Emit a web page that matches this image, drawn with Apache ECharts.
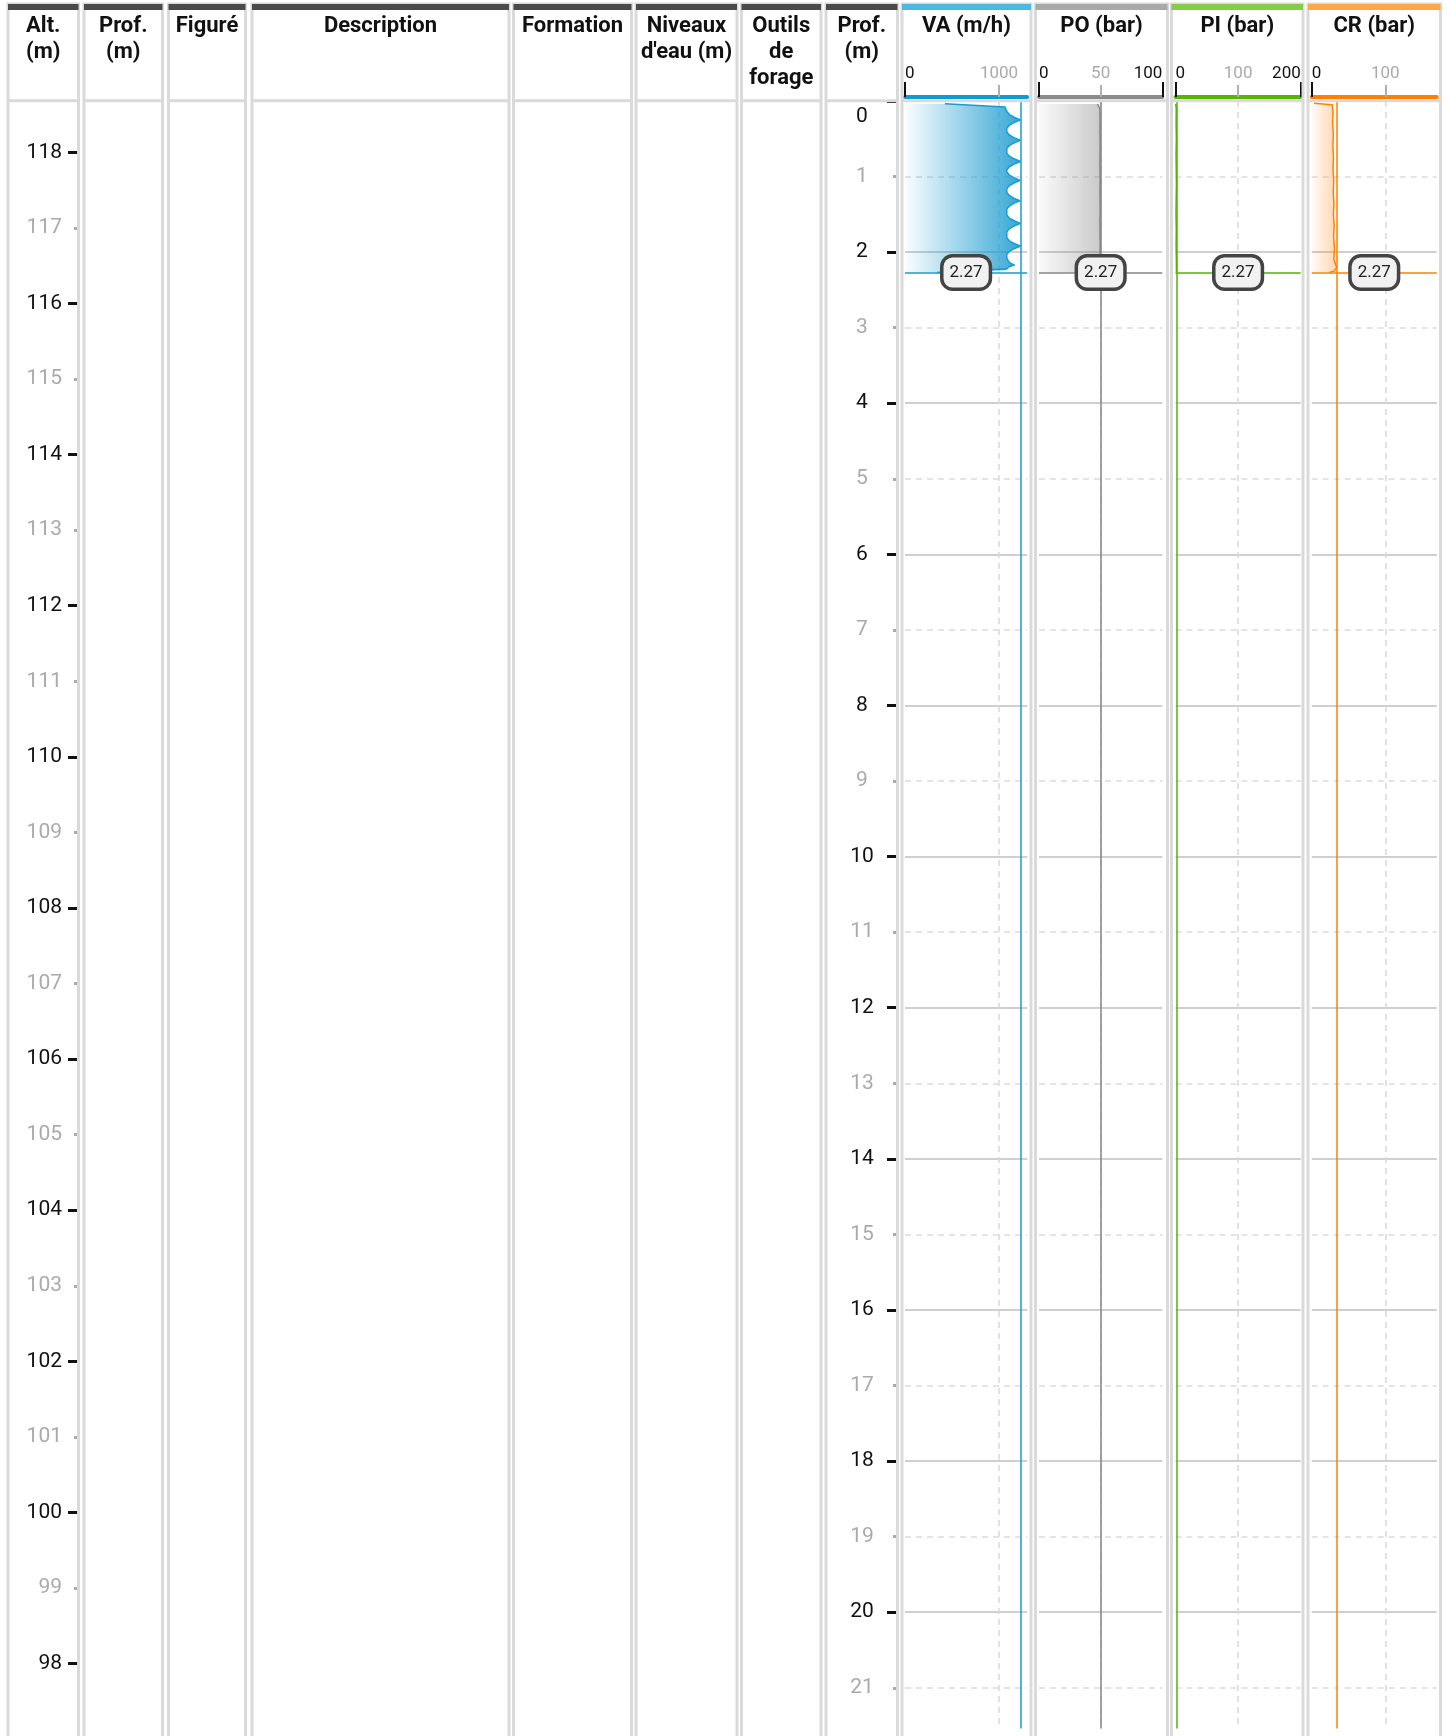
<!DOCTYPE html>
<html>
<head>
<meta charset="utf-8">
<title>Log de forage</title>
<script src="https://cdn.jsdelivr.net/npm/echarts@6/dist/echarts.min.js"></script>
<style>
html, body { margin: 0; padding: 0; background: #fff; }
#chart { width: 1447px; height: 1736px; }
</style>
</head>
<body>
<div id="chart"></div>
<script>
// column titles, left to right
const columnTitles = ['Alt.\n(m)', 'Prof.\n(m)', 'Figuré', 'Description', 'Formation', "Niveaux\nd'eau (m)",
  'Outils\nde\nforage', 'Prof.\n(m)', 'VA (m/h)', 'PO (bar)', 'PI (bar)', 'CR (bar)'];

const currentDepth = 2.27;     // last drilled depth (m)
const groundAltitude = 118.68; // altitude at depth 0 (m)

// VA (m/h)
const vaDepth = [0.035, 0.08, 0.14, 0.18, 0.215, 0.25, 0.285, 0.32, 0.36,
  0.41, 0.45, 0.485, 0.52, 0.555, 0.59, 0.63,
  0.69, 0.73, 0.765, 0.80, 0.835, 0.87, 0.91,
  0.94, 0.98, 1.015, 1.05, 1.085, 1.12, 1.16,
  1.21, 1.25, 1.285, 1.32, 1.355, 1.39, 1.43,
  1.51, 1.55, 1.585, 1.62, 1.655, 1.69, 1.73,
  1.81, 1.85, 1.885, 1.92, 1.955, 1.99, 2.03,
  2.08, 2.12, 2.15, 2.17, 2.19, 2.22, 2.24, 2.27];
const vaValue = [425, 1065, 1083, 1110, 1160, 1230, 1160, 1110, 1083,
  1083, 1110, 1158, 1225, 1158, 1110, 1083,
  1083, 1110, 1160, 1228, 1160, 1110, 1083,
  1083, 1110, 1158, 1226, 1158, 1110, 1083,
  1083, 1110, 1155, 1222, 1155, 1110, 1083,
  1083, 1110, 1160, 1229, 1160, 1110, 1083,
  1083, 1110, 1160, 1230, 1160, 1110, 1083,
  1083, 1100, 1125, 1165, 1110, 1085, 1075, 340];

// PO (bar)
const poDepth = [0.04, 0.10, 0.25, 0.40, 0.55, 0.70, 0.85, 1.00, 1.15, 1.30, 1.45, 1.60, 1.75, 1.90, 2.05, 2.20, 2.27];
const poValue = [47.5, 49.4, 49.5, 49.4, 49.6, 49.5, 49.4, 49.6, 49.5, 49.5, 49.6, 49.4, 49.5, 49.6, 49.5, 50.0, 49.6];

// PI (bar)
const piDepth = [0.04, 0.10, 0.30, 0.50, 0.70, 0.90, 1.10, 1.30, 1.50, 1.70, 1.90, 2.10, 2.27];
const piValue = [0.4, 1.2, 1.0, 1.4, 0.9, 1.2, 1.5, 1.1, 0.8, 1.3, 1.0, 1.4, 1.6];

// CR (bar)
const crDepth = [0.03, 0.05, 0.15, 0.30, 0.45, 0.60, 0.75, 0.90, 1.05, 1.20, 1.35, 1.50, 1.65, 1.80, 1.95, 2.10, 2.20, 2.25, 2.27];
const crValue = [3, 28, 29, 28.5, 29.5, 28.8, 29.6, 29.0, 30.0, 29.3, 30.2, 29.5, 30.5, 29.8, 31.0, 30.2, 34, 31, 24];

// tick labels of the track scales
const vaTicks = [0, 1000];
const poTicks = [0, 50, 100];
const piTicks = [0, 100, 200];
const crTicks = [0, 100];

// ---- layout ----
const TOP = 101;          // y of depth 0
const PX_PER_M = 75.56;
const DEPTH_MAX = 22;
const ALT_MIN = 96;
const FONT = 'Roboto';

// column frames [left, right]
const cols = [[8, 78.5], [84, 162.5], [168.5, 245.5], [252, 509], [513.5, 631.5], [636, 737],
  [741.5, 821], [826, 897.5], [902, 1031], [1035.5, 1167.5], [1171.5, 1303], [1308, 1440.5]];
const barColors = ['#4a4a4a', '#4a4a4a', '#4a4a4a', '#4a4a4a', '#4a4a4a', '#4a4a4a', '#4a4a4a', '#4a4a4a',
  '#4fb7dd', '#a9a9a9', '#86cc4c', '#ffa64d'];

const tracks = [
  { depth: vaDepth, value: vaValue, max: 1300, ticks: vaTicks, left: 905, width: 122.2,
    line: '#1a9bcf', axis: '#0e9cd0', fill: ['rgba(26,155,207,0.02)', 'rgba(26,155,207,0.88)'] },
  { depth: poDepth, value: poValue, max: 100, ticks: poTicks, left: 1039, width: 123.3,
    line: '#858585', axis: '#8a8a8a', fill: ['rgba(128,128,128,0.04)', 'rgba(128,128,128,0.42)'] },
  { depth: piDepth, value: piValue, max: 200, ticks: piTicks, left: 1175.5, width: 125.2,
    line: '#52b400', axis: '#55b500', fill: ['rgba(82,180,0,0.05)', 'rgba(82,180,0,0.4)'] },
  { depth: crDepth, value: crValue, max: 170, ticks: crTicks, left: 1311.7, width: 125.1,
    line: '#ff8000', axis: '#ff7f00', fill: ['rgba(255,128,0,0.03)', 'rgba(255,128,0,0.32)'] }
];

const trackHeight = DEPTH_MAX * PX_PER_M;

const grids = [
  { left: 77, width: 4, top: TOP, height: (groundAltitude - ALT_MIN) * PX_PER_M, outerBoundsMode: 'none' },
  { left: 896, width: 4, top: TOP, height: trackHeight, outerBoundsMode: 'none' }
];
const xAxes = [
  { gridIndex: 0, type: 'value', show: false, min: 0, max: 1 },
  { gridIndex: 1, type: 'value', show: false, min: 0, max: 1 }
];
const yAxes = [
  // altitude, odd values
  { gridIndex: 0, type: 'value', position: 'left', min: ALT_MIN, max: groundAltitude, interval: 1,
    axisLine: { show: false }, splitLine: { show: false },
    axisTick: { length: 3, lineStyle: { color: '#aaa', width: 3 } },
    axisLabel: { margin: 15, fontSize: 21, fontFamily: FONT, color: '#aaa', showMaxLabel: false,
      formatter: v => (Math.abs(v % 2) === 1 ? String(v) : '') } },
  // altitude, even values
  { gridIndex: 0, type: 'value', position: 'left', min: ALT_MIN, max: groundAltitude, interval: 2,
    axisLine: { show: false }, splitLine: { show: false },
    axisTick: { length: 9, lineStyle: { color: '#111', width: 3 } },
    axisLabel: { margin: 15, fontSize: 21, fontFamily: FONT, color: '#111', showMaxLabel: false,
      formatter: v => (Number.isInteger(v) ? String(v) : '') } },
  // depth, odd values
  { gridIndex: 1, type: 'value', position: 'left', inverse: true, min: 0, max: DEPTH_MAX, interval: 1,
    axisLine: { show: false }, splitLine: { show: false },
    axisTick: { length: 3, lineStyle: { color: '#aaa', width: 3 } },
    axisLabel: { margin: 34, align: 'center', fontSize: 21, fontFamily: FONT, color: '#aaa',
      formatter: v => (v % 2 === 1 ? String(v) : '') } },
  // depth, even values
  { gridIndex: 1, type: 'value', position: 'left', inverse: true, min: 0, max: DEPTH_MAX, interval: 2,
    axisLine: { show: false }, splitLine: { show: false },
    axisTick: { length: 9, lineStyle: { color: '#111', width: 3 } },
    axisLabel: { margin: 34, align: 'center', fontSize: 21, fontFamily: FONT, color: '#111',
      formatter: v => (v === 0 ? '{z|0}' : String(v)),
      rich: { z: { padding: [31, 0, 0, 0], fontSize: 21, fontFamily: FONT, color: '#111' } } } }
];
const series = [];

tracks.forEach((t, i) => {
  const g = grids.length;
  grids.push({ left: t.left, width: t.width, top: TOP, height: trackHeight, outerBoundsMode: 'none' });
  const xi = xAxes.length;
  const edge = t.ticks.filter(v => v === 0 || v === t.max);
  const mid = t.ticks.filter(v => v !== 0 && v !== t.max);
  xAxes.push({
    gridIndex: g, type: 'value', position: 'top', offset: 4, min: 0, max: t.max,
    axisLine: { show: true, onZero: false, lineStyle: { color: t.axis, width: 4 } },
    axisTick: { show: true, customValues: edge, length: 15, lineStyle: { color: '#111', width: 2 } },
    axisLabel: {
      show: true, customValues: t.ticks, margin: 15,
      formatter: v => v === 0 ? '{l|0}' : (v === t.max ? '{r|' + v + '}' : '{m|' + v + '}'),
      rich: {
        l: { padding: [0, 0, 0, 9.5], fontSize: 17, fontFamily: FONT, color: '#111' },
        r: { padding: [0, String(t.max).length * 9.5, 0, 0], fontSize: 17, fontFamily: FONT, color: '#111' },
        m: { fontSize: 17, fontFamily: FONT, color: '#aaa' }
      }
    },
    splitLine: { show: false }
  });
  xAxes.push({
    gridIndex: g, type: 'value', position: 'top', offset: 4, min: 0, max: t.max,
    axisLine: { show: false, onZero: false },
    axisTick: { show: true, customValues: mid, length: 12, lineStyle: { color: '#b0b0b0', width: 2 } },
    axisLabel: { show: false },
    splitLine: { show: true, lineStyle: { color: '#d9d9d9', width: 1.5, type: [6, 5] } }
  });
  const yi = yAxes.length;
  yAxes.push({
    gridIndex: g, type: 'value', inverse: true, min: 0, max: DEPTH_MAX, interval: 2,
    axisLine: { show: false }, axisTick: { show: false }, axisLabel: { show: false },
    splitLine: { show: true, lineStyle: { color: '#cfcfcf', width: 2 } },
    minorTick: { show: false, splitNumber: 2 },
    minorSplitLine: { show: true, lineStyle: { color: '#dcdcdc', width: 1.5, type: [6, 5] } }
  });
  const data = t.depth.map((d, k) => [t.value[k], d]);
  // area filled towards value 0 (horizontally)
  series.push({
    type: 'custom', xAxisIndex: xi, yAxisIndex: yi, z: 1, silent: true,
    data: [[0, 0]],
    renderItem: (params, api) => {
      const pts = data.map(p => api.coord(p));
      pts.push(api.coord([0, t.depth[t.depth.length - 1]]));
      pts.push(api.coord([0, t.depth[0]]));
      return {
        type: 'polygon', shape: { points: pts },
        style: { fill: new echarts.graphic.LinearGradient(0, 0, 1, 0, [
          { offset: 0, color: t.fill[0] }, { offset: 1, color: t.fill[1] }]) }
      };
    }
  });
  series.push({
    type: 'line', xAxisIndex: xi, yAxisIndex: yi, z: 3, data: data,
    showSymbol: false, symbol: 'none', silent: true,
    lineStyle: { color: t.line, width: 1.5 },
    markLine: {
      silent: true, symbol: ['none', 'none'], animation: false,
      lineStyle: { color: t.line, width: 1.5, type: 'solid' },
      emphasis: { disabled: true },
      data: [
        { yAxis: currentDepth,
          label: { show: true, position: 'insideMiddle', formatter: '{c}', fontSize: 17, fontFamily: FONT, color: '#222',
            backgroundColor: '#f1f1f1', borderColor: '#444', borderWidth: 3.5, borderRadius: 9, padding: [7, 6, 6, 6] } },
        { type: 'max', valueDim: 'x', label: { show: false } }
      ]
    }
  });
});

// column frames and headers
const graphics = [];
cols.forEach((c, i) => {
  graphics.push({ type: 'rect', z: 100, silent: true,
    shape: { x: c[0], y: 4, width: c[1] - c[0], height: 1800 },
    style: { fill: 'none', stroke: '#dadada', lineWidth: 3 } });
  // chart area ends a little above the page bottom
  graphics.push({ type: 'rect', z: 99, silent: true,
    shape: { x: c[0] + 1.5, y: 1728.5, width: c[1] - c[0] - 3, height: 12 },
    style: { fill: '#fff' } });
  graphics.push({ type: 'line', z: 101, silent: true,
    shape: { x1: c[0], y1: 100.7, x2: c[1], y2: 100.7 },
    style: { stroke: '#dadada', lineWidth: 3 } });
  graphics.push({ type: 'rect', z: 102, silent: true,
    shape: { x: c[0], y: 4, width: c[1] - c[0], height: 6 },
    style: { fill: barColors[i] } });
  graphics.push({ type: 'text', z: 102, silent: true, x: (c[0] + c[1]) / 2, y: 13,
    style: { text: columnTitles[i], fontSize: 22, fontWeight: 'bold', fontFamily: FONT, fill: '#111',
      align: 'center', verticalAlign: 'top', lineHeight: 26 } });
});

const chart = echarts.init(document.getElementById('chart'), null, { renderer: 'canvas' });
chart.setOption({
  animation: false,
  backgroundColor: '#fff',
  textStyle: { fontFamily: FONT },
  grid: grids,
  xAxis: xAxes,
  yAxis: yAxes,
  series: series,
  graphic: { elements: graphics }
});
window.addEventListener('resize', function () { chart.resize(); });
</script>
</body>
</html>
